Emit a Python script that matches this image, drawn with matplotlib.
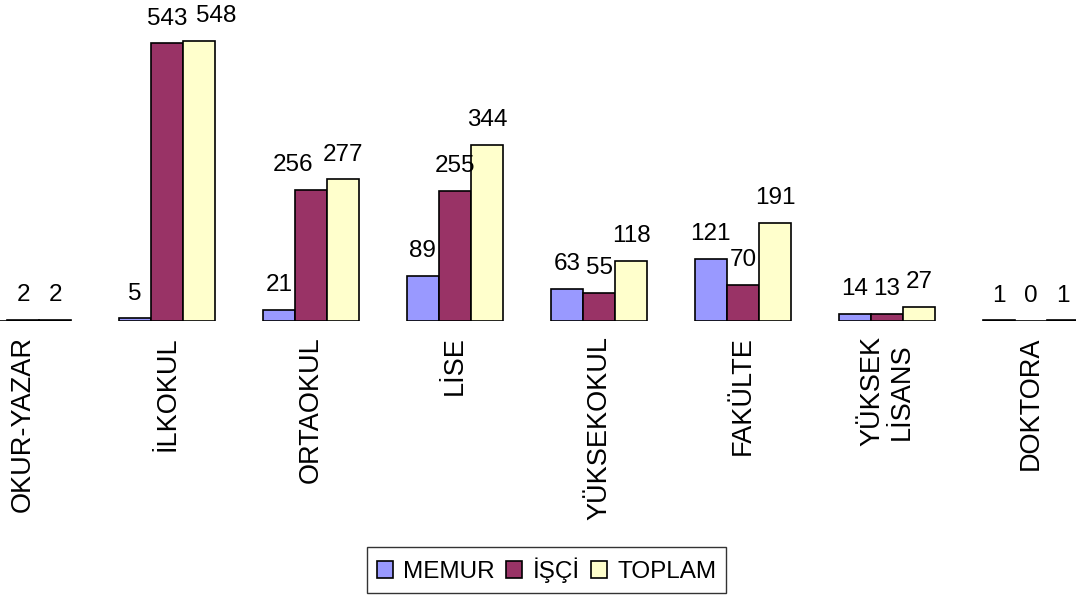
import numpy as np
import matplotlib.pyplot as plt

plt.rcParams['font.family'] = ['Liberation Sans', 'DejaVu Sans']

# Veriler
kategoriler = ['OKUR-YAZAR', 'İLKOKUL', 'ORTAOKUL', 'LİSE', 'YÜKSEKOKUL',
               'FAKÜLTE', 'YÜKSEK\nLİSANS', 'DOKTORA']
memur = [0, 5, 21, 89, 63, 121, 14, 1]
isci = [2, 543, 256, 255, 55, 70, 13, 0]
toplam = [2, 548, 277, 344, 118, 191, 27, 1]

seriler = ['MEMUR', 'İŞÇİ', 'TOPLAM']
renkler = ['#9999FF', '#993366', '#FFFFCC']

# üst üste binen etiketler için yatay kaydırma (punto)
kaydir = {(1, 2): 12, (2, 1): -13}

fig = plt.figure(figsize=(10.76, 5.96), dpi=100)
ax = fig.add_axes([0, 275 / 596, 1, 321 / 596])

x = np.arange(len(kategoriler))
w = 0.224
for i, (ad, vals, renk) in enumerate(zip(seriler, [memur, isci, toplam], renkler)):
    bars = ax.bar(x + (i - 1) * w, vals, w, color=renk, edgecolor='black',
                  linewidth=1.2, label=ad)
    for j, (b, v) in enumerate(zip(bars, vals)):
        ax.annotate(str(v), (b.get_x() + b.get_width() / 2, b.get_height()),
                    xytext=(kaydir.get((j, i), 0), 10), textcoords='offset points',
                    ha='center', va='bottom', fontsize=17.5, annotation_clip=False)

ax.set_xlim(-0.16, 7.3125)
ax.set_ylim(0, 628)
ax.set_xticks(x)
ax.set_xticklabels(kategoriler, rotation=90, fontsize=19.5, ha='center', va='top')
ax.tick_params(axis='x', length=0, pad=11)
ax.set_yticks([])
for s in ax.spines.values():
    s.set_visible(False)
ax.patch.set_visible(False)

leg = fig.legend(loc='center', bbox_to_anchor=(546.5 / 1076, 1 - 570 / 596), ncol=3,
                 fontsize=17.5, frameon=True, fancybox=False, edgecolor='black',
                 handlelength=0.68, handleheight=0.68, handletextpad=0.42,
                 columnspacing=0.45, borderpad=0.4, borderaxespad=0)
leg.get_frame().set_linewidth(1.0)

plt.savefig('out.png', dpi=100)
plt.close()
